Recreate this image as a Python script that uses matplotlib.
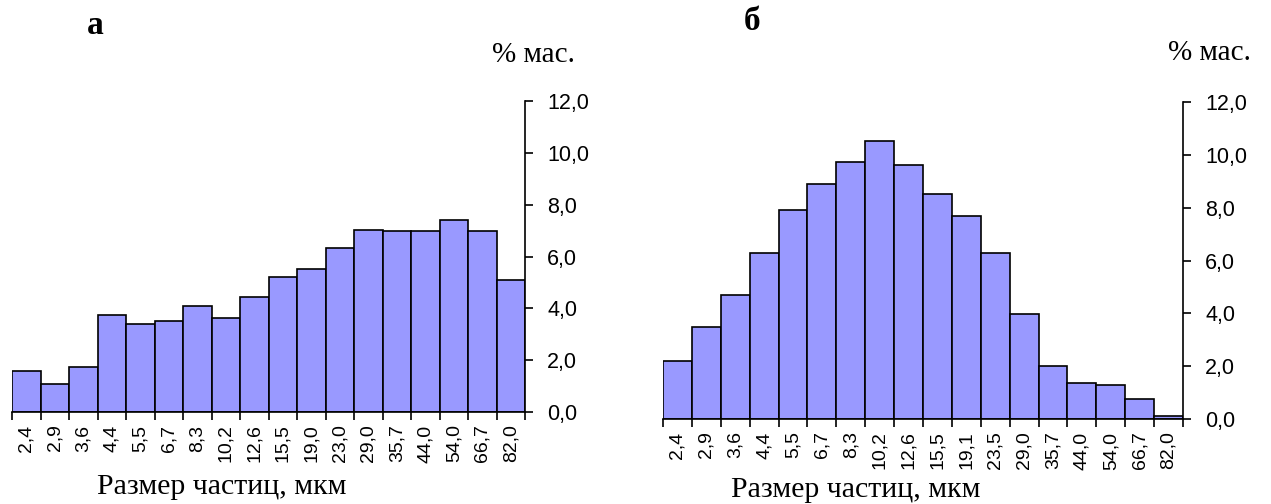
import matplotlib
matplotlib.use("Agg")
import matplotlib.pyplot as plt
import numpy as np

sizes_a = ["2,4", "2,9", "3,6", "4,4", "5,5", "6,7", "8,3", "10,2", "12,6",
           "15,5", "19,0", "23,0", "29,0", "35,7", "44,0", "54,0", "66,7", "82,0"]
mass_a = [1.60, 1.09, 1.72, 3.74, 3.39, 3.50, 4.08, 3.62, 4.43,
          5.22, 5.52, 6.32, 7.01, 7.00, 7.00, 7.41, 7.00, 5.11]

sizes_b = ["2,4", "2,9", "3,6", "4,4", "5,5", "6,7", "8,3", "10,2", "12,6",
           "15,5", "19,1", "23,5", "29,0", "35,7", "44,0", "54,0", "66,7", "82,0"]
mass_b = [2.21, 3.49, 4.71, 6.30, 7.91, 8.90, 9.74, 10.51, 9.61,
          8.52, 7.69, 6.30, 3.98, 2.00, 1.38, 1.27, 0.77, 0.11]

yticks = [0, 2, 4, 6, 8, 10, 12]

W, H = 1271, 504
SANS = "Liberation Sans"
SERIF = "Liberation Serif"


def draw_panel(fig, rect, labels, values):
    ax = fig.add_axes(rect)
    n = len(values)
    ax.bar(np.arange(n), values, width=1.0, align="edge",
           color="#9999ff", edgecolor="black", linewidth=1.2)
    ax.set_xlim(0, n)
    ax.set_ylim(0, 12)

    for s in ("left", "top"):
        ax.spines[s].set_visible(False)
    ax.spines["right"].set_linewidth(1.2)
    ax.spines["bottom"].set_linewidth(1.2)

    ax.yaxis.tick_right()
    ax.set_yticks(yticks)
    ax.set_yticklabels([f"{v:.1f}".replace(".", ",") for v in yticks],
                       fontfamily=SANS, fontsize=15.5)
    ax.tick_params(axis="y", direction="out", length=6, width=1.2, pad=10)

    # boundaries get tick marks, centres get the labels
    ax.set_xticks(np.arange(n + 1))
    ax.set_xticklabels([])
    ax.set_xticks(np.arange(n) + 0.5, minor=True)
    ax.set_xticklabels(labels, minor=True, rotation=90,
                       fontfamily=SANS, fontsize=14)
    ax.tick_params(axis="x", which="major", direction="out", length=6, width=1.2)
    ax.tick_params(axis="x", which="minor", length=0, pad=9)
    return ax


fig = plt.figure(figsize=(W / 100, H / 100), dpi=100)

draw_panel(fig, [12 / W, (H - 412) / H, (525 - 12) / W, (412 - 101) / H],
           sizes_a, mass_a)
draw_panel(fig, [663 / W, (H - 419) / H, (1183 - 663) / W, (419 - 102) / H],
           sizes_b, mass_b)

fig.text(95 / W, 1 - 25 / H, "а", fontfamily=SERIF, fontweight="bold",
         fontsize=24, ha="center", va="center")
fig.text(752 / W, 1 - 22 / H, "б", fontfamily=SERIF, fontweight="bold",
         fontsize=24, ha="center", va="center")

fig.text(533 / W, 1 - 55 / H, "% мас.", fontfamily=SERIF, fontsize=21,
         ha="center", va="center")
fig.text(1209 / W, 1 - 53 / H, "% мас.", fontfamily=SERIF, fontsize=21,
         ha="center", va="center")

fig.text(222 / W, 1 - 487 / H, "Размер частиц, мкм", fontfamily=SERIF,
         fontsize=21.5, ha="center", va="center")
fig.text(856 / W, 1 - 490 / H, "Размер частиц, мкм", fontfamily=SERIF,
         fontsize=21.5, ha="center", va="center")

fig.savefig("out.png", dpi=100)
